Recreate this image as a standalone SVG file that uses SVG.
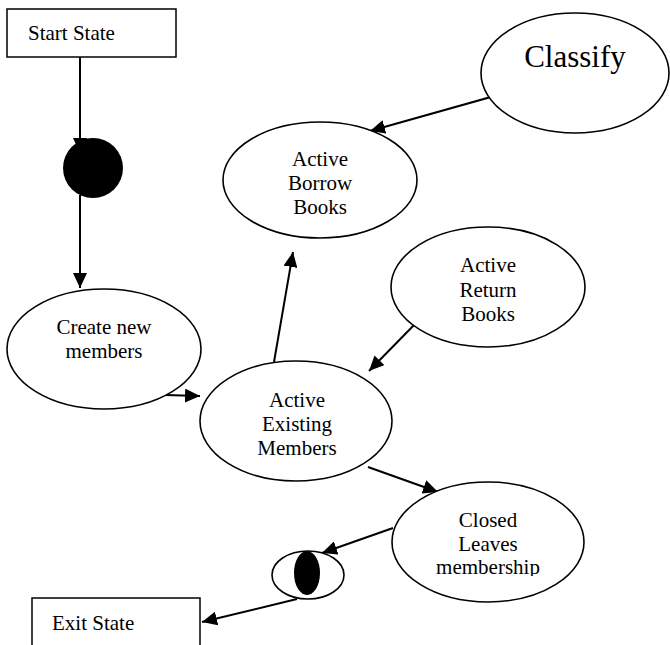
<svg xmlns="http://www.w3.org/2000/svg" width="670" height="645" viewBox="0 0 670 645">
  <style>
    .box { fill: #fff; stroke: #000; stroke-width: 1.5; }
    .state { fill: #fff; stroke: #000; stroke-width: 1.6; }
    .label { font-family: "Liberation Serif", "Times New Roman", serif; font-size: 21px; fill: #000; text-anchor: middle; }
    .big { font-size: 31px; }
    .left { text-anchor: start; }
    .edge { fill: none; stroke: #000; stroke-width: 2; }
  </style>
  <defs>
    <marker id="arrow" markerUnits="userSpaceOnUse" markerWidth="16" markerHeight="14" refX="15" refY="7" orient="auto">
      <path d="M0,0 L15,7 L0,14 z" fill="#000"/>
    </marker>
    <clipPath id="closedClip">
      <rect x="392" y="482" width="200" height="94"/>
    </clipPath>
  </defs>
  <rect width="670" height="645" fill="#fff"/>

  <!-- connectors -->
  <g id="connectors">
    <line class="edge" x1="80" y1="57" x2="80" y2="153" marker-end="url(#arrow)"/>
    <line class="edge" x1="80" y1="195" x2="80" y2="288" marker-end="url(#arrow)"/>
    <line class="edge" x1="165" y1="395" x2="200" y2="396" marker-end="url(#arrow)"/>
    <line class="edge" x1="274" y1="362" x2="293" y2="252" marker-end="url(#arrow)"/>
    <line class="edge" x1="537" y1="84" x2="370" y2="131" marker-end="url(#arrow)"/>
    <line class="edge" x1="415" y1="324" x2="369" y2="371" marker-end="url(#arrow)"/>
    <line class="edge" x1="368" y1="467" x2="438" y2="492" marker-end="url(#arrow)"/>
    <line class="edge" x1="393" y1="528" x2="322" y2="553" marker-end="url(#arrow)"/>
    <line class="edge" x1="297" y1="599" x2="202" y2="622" marker-end="url(#arrow)"/>
  </g>

  <!-- start state -->
  <g id="start-state">
    <rect class="box" x="7" y="9" width="169" height="48"/>
    <text class="label left" x="28" y="40">Start State</text>
  </g>

  <!-- initial pseudo-state -->
  <g id="initial">
    <circle cx="93" cy="168" r="30" fill="#000"/>
  </g>

  <g id="create-new-members">
    <ellipse class="state" cx="104" cy="349" rx="97" ry="60"/>
    <text class="label" x="104" y="334">Create new</text>
    <text class="label" x="104" y="358">members</text>
  </g>

  <g id="active-existing-members">
    <ellipse class="state" cx="296" cy="421" rx="96" ry="60"/>
    <text class="label" x="297" y="407">Active</text>
    <text class="label" x="297" y="431">Existing</text>
    <text class="label" x="297" y="455">Members</text>
  </g>

  <g id="active-borrow-books">
    <ellipse class="state" cx="320" cy="180" rx="97" ry="58"/>
    <text class="label" x="320" y="166">Active</text>
    <text class="label" x="320" y="190">Borrow</text>
    <text class="label" x="320" y="214">Books</text>
  </g>

  <g id="classify">
    <ellipse class="state" cx="575" cy="73" rx="94" ry="60"/>
    <text class="label big" x="575" y="67">Classify</text>
  </g>

  <g id="active-return-books">
    <ellipse class="state" cx="488" cy="287" rx="97" ry="60"/>
    <text class="label" x="488" y="272">Active</text>
    <text class="label" x="488" y="297">Return</text>
    <text class="label" x="488" y="321">Books</text>
  </g>

  <g id="closed-leaves-membership">
    <ellipse class="state" cx="488" cy="542" rx="96" ry="60"/>
    <g clip-path="url(#closedClip)">
      <text class="label" x="488" y="527">Closed</text>
      <text class="label" x="488" y="551">Leaves</text>
      <text class="label" x="488" y="574">membership</text>
    </g>
  </g>

  <!-- final pseudo-state -->
  <g id="final">
    <ellipse class="state" cx="308" cy="575" rx="36" ry="24"/>
    <ellipse cx="307" cy="573" rx="13" ry="22" fill="#000"/>
  </g>

  <g id="exit-state">
    <rect class="box" x="32" y="598" width="168" height="60"/>
    <text class="label left" x="52" y="630">Exit State</text>
  </g>
</svg>
